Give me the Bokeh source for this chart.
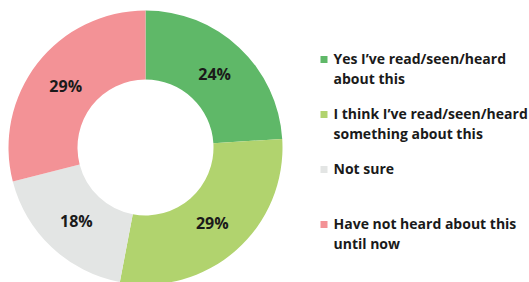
import math
from bokeh.plotting import figure
from bokeh.models import Range1d, ColumnDataSource
from bokeh.core.properties import value
from bokeh.embed import file_html
from bokeh.resources import INLINE

# ---- data ----
categories = [
    "Yes I\u2019ve read/seen/heard\nabout this",
    "I think I\u2019ve read/seen/heard\nsomething about this",
    "Not sure",
    "Have not heard about this\nuntil now",
]
percents = [24, 29, 18, 29]
colors = ["#5fb868", "#b1d36e", "#e3e5e4", "#f39296"]

W, H = 529, 282
p = figure(width=W, height=H, output_backend="svg", toolbar_location=None,
           x_range=Range1d(0, W), y_range=Range1d(0, H), min_border=0)
p.axis.visible = False
p.grid.visible = False
p.outline_line_color = None
p.background_fill_color = "white"
p.border_fill_color = "white"

cx, cy = 145, 135
r_out, r_in = 137, 68
total = sum(percents)
starts, ends, lx, ly, labels = [], [], [], [], []
acc = 0
for v in percents:
    a0 = math.pi / 2 - 2 * math.pi * acc / total
    a1 = math.pi / 2 - 2 * math.pi * (acc + v) / total
    starts.append(a0)
    ends.append(a1)
    mid = (a0 + a1) / 2
    rl = 101
    lx.append(cx + rl * math.cos(mid))
    ly.append(cy + rl * math.sin(mid))
    labels.append(f"{v}%")
    acc += v

src = ColumnDataSource(dict(start=starts, end=ends, color=colors))
p.annular_wedge(x=cx, y=cy, inner_radius=r_in, outer_radius=r_out,
                start_angle="start", end_angle="end", direction="clock",
                fill_color="color", line_color=None, source=src)

p.text(x=lx, y=ly, text=labels, text_font=value("Open Sans"), text_font_style="bold",
       text_font_size="16px", text_color="#1a1a1a", text_align="center",
       text_baseline="middle")

# legend
lg_x, lg_y0, lg_step, line_step = 323.5, 223, 55, 20
sq_x, sq_y, tx, ty, tt = [], [], [], [], []
for i, (cat, col) in enumerate(zip(categories, colors)):
    y = lg_y0 - i * lg_step
    sq_x.append(lg_x)
    sq_y.append(y)
    for j, line in enumerate(cat.split("\n")):
        tx.append(lg_x + 9.5)
        ty.append(y + 1 - j * line_step)
        tt.append(line)
p.rect(x=sq_x, y=sq_y, width=7, height=7, fill_color=colors, line_color=None)
p.text(x=tx, y=ty, text=tt, text_font=value("Open Sans"), text_font_style="bold",
       text_font_size="14px", text_color="#1a1a1a", text_align="left",
       text_baseline="middle")

open("out.html", "w").write(file_html(p, INLINE))
